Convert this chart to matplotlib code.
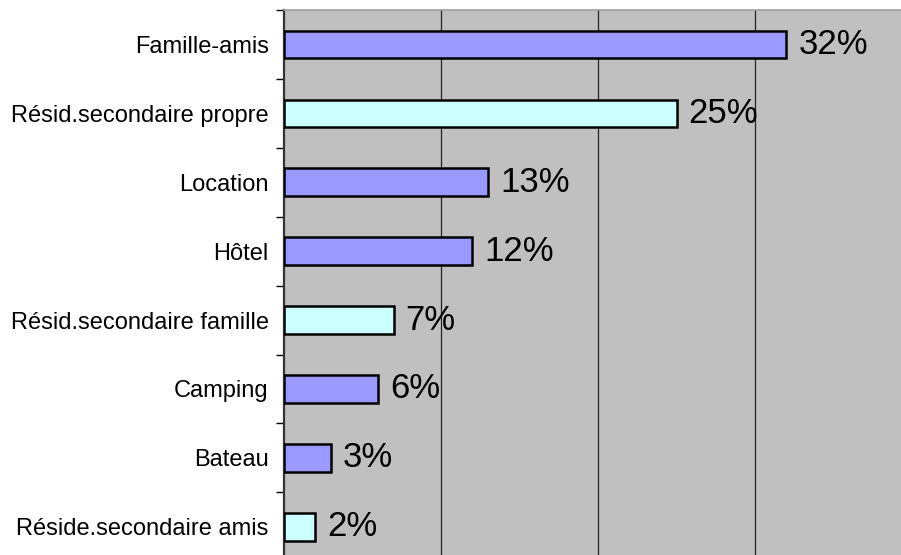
import numpy as np
import matplotlib
matplotlib.use('Agg')
import matplotlib.pyplot as plt

#### Data
categories = ['Famille-amis', 'Résid.secondaire propre', 'Location', 'Hôtel',
              'Résid.secondaire famille', 'Camping', 'Bateau', 'Réside.secondaire amis']
values     = [0.32, 0.25, 0.13, 0.12, 0.07, 0.06, 0.03, 0.02]
labels     = ['32%', '25%', '13%', '12%', '7%', '6%', '3%', '2%']
kinds      = ['a', 'b', 'a', 'a', 'b', 'a', 'a', 'b']   # a = purple, b = light cyan

colors = {'a': '#9999FF', 'b': '#CCFFFF'}
plt.rcParams['font.family'] = ['Liberation Sans', 'DejaVu Sans']

W, H = 901, 555
fig = plt.figure(figsize=(W / 100, H / 100), dpi=100)
# plot area runs off the right and bottom edges, as in the reference
left, top = 284, 10
px_per_10 = 157
row = 68.9
ax = fig.add_axes([left / W, 1 - (top + row * len(categories)) / H,
                   4 * px_per_10 / W, row * len(categories) / H])
ax.set_facecolor('#C0C0C0')

y = np.arange(len(categories))
ax.barh(y, values, height=0.4, color=[colors[k] for k in kinds],
        edgecolor='black', linewidth=1.8, zorder=3)
for yi, v, lab in zip(y, values, labels):
    ax.text(v + 0.0075, yi, lab, va='center', ha='left', fontsize=25, zorder=4)

ax.set_xlim(0, 0.4)
ax.set_ylim(len(categories) - 0.5, -0.5)
ax.set_xticks([0.1, 0.2, 0.3])
ax.tick_params(axis='x', length=0, labelbottom=False)
ax.grid(axis='x', color='#222222', linewidth=0.9, zorder=1)

ax.set_yticks(y)
ax.set_yticklabels(categories, fontsize=17)
ax.tick_params(axis='y', which='major', length=0, pad=11)
ax.set_yticks(np.arange(len(categories) + 1) - 0.5, minor=True)
ax.tick_params(axis='y', which='minor', length=6, width=1, color='black')

ax.spines['left'].set_linewidth(1.6)
ax.spines['left'].set_color('#333333')
ax.spines['top'].set_color('#A0A0A0')
ax.spines['top'].set_linewidth(1.2)
ax.spines['right'].set_visible(False)
ax.spines['bottom'].set_visible(False)

fig.savefig('out.png', dpi=100)
